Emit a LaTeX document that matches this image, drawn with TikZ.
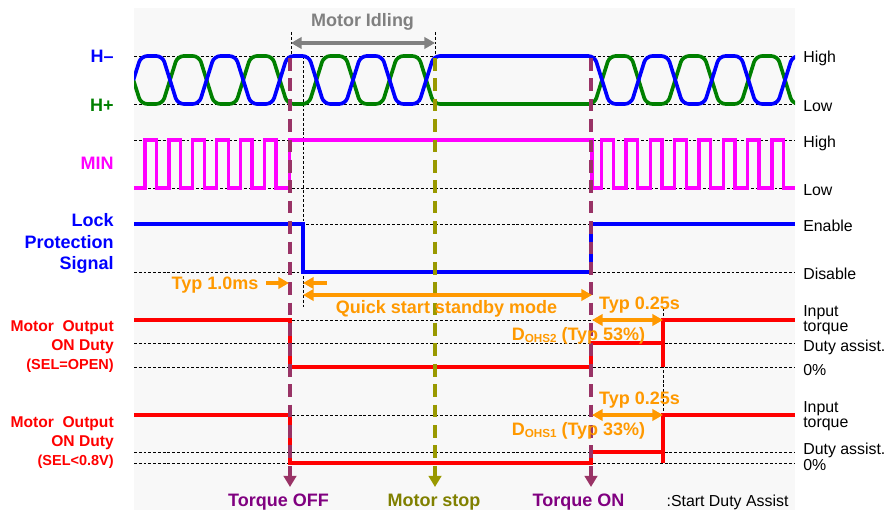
\documentclass[tikz,border=0pt]{standalone}
\usepackage{fontspec}
\setmainfont{Liberation Sans}
\usetikzlibrary{arrows.meta}
\definecolor{tdBlue}{HTML}{0000FF}
\definecolor{tdGreen}{HTML}{008000}
\definecolor{tdMagenta}{HTML}{FF00FF}
\definecolor{tdRed}{HTML}{FF0000}
\definecolor{tdOrange}{HTML}{FF9900}
\definecolor{tdPlum}{HTML}{993366}
\definecolor{tdPurple}{HTML}{800080}
\definecolor{tdOlive}{HTML}{999900}
\definecolor{tdOliveTxt}{HTML}{808000}
\definecolor{tdGray}{HTML}{808080}
\definecolor{tdBg}{HTML}{F8F8F8}
\begin{document}
\begin{tikzpicture}[x=0.025cm,y=-0.025cm,
  >={Triangle[length=7.5pt,width=8pt]},
  every node/.style={inner sep=0pt},
  lvl/.style={line width=0.55pt,dash pattern=on 2pt off 1.4pt},
  sig/.style={line width=2.4pt},
  hwave/.style={sig,line width=2.6pt,rounded corners=4.5pt},
  evt/.style={line width=2.5pt,dash pattern=on 9pt off 5.5pt,-{Triangle[length=8pt,width=9pt]}},
  orarr/.style={line width=2.8pt,tdOrange},
  big/.style={font=\bfseries\fontsize{12.8}{15.1}\selectfont},
  lbl/.style={big,align=right,anchor=north east},
  dutylbl/.style={lbl,tdRed,font=\bfseries\fontsize{11.1}{13.6}\selectfont},
  rlbl/.style={font=\fontsize{11.3}{10.7}\selectfont,anchor=base west},
  olbl/.style={big,tdOrange,anchor=base},
  evlbl/.style={big,anchor=base},
]
\useasboundingbox (0,0) rectangle (885,510);
\fill[white] (0,0) rectangle (885,510);
\fill[tdBg] (134,8) rectangle (795,510);

% level lines
\foreach \y in {56,104,140,188,224,272,320,343,367,415,452,463}
  \draw[lvl] (134,\y) -- (795,\y);
\draw[lvl] (291,32) -- (291,56);
\draw[lvl] (435,32) -- (435,56);
\draw[lvl] (303,56) -- (303,308);
\draw[lvl] (663,308) -- (663,413);

% hall signals
\begin{scope}
\clip (134,0) rectangle (795,510);
\draw[hwave,tdGreen] (133.4,80) -- (141,104)
  \foreach \k [evaluate=\k as \xa using 125.9+36.6*\k,
               evaluate=\k as \ya using 104-48*iseven(\k)] in {1,...,8}
  { -- (\xa,\ya) -- (\xa+15,160-\ya) }
  \foreach \j [evaluate=\j as \xa using 594.5+36.6*\j,
               evaluate=\j as \ya using 104-48*isodd(\j)] in {0,...,5}
  { -- (\xa,\ya) -- (\xa+15,160-\ya) } -- (796,104);
\draw[hwave,tdBlue] (133.4,80) -- (141,56)
  \foreach \k [evaluate=\k as \xa using 125.9+36.6*\k,
               evaluate=\k as \ya using 56+48*iseven(\k)] in {1,...,8}
  { -- (\xa,\ya) -- (\xa+15,160-\ya) }
  \foreach \j [evaluate=\j as \xa using 594.5+36.6*\j,
               evaluate=\j as \ya using 56+48*isodd(\j)] in {0,...,5}
  { -- (\xa,\ya) -- (\xa+15,160-\ya) } -- (796,56);
\end{scope}

% MIN
\draw[sig,tdMagenta] (134,188)
  \foreach \k [evaluate=\k as \xr using 145+23.9*\k] in {0,...,5}
  { -- (\xr,188) -- (\xr,140) -- (\xr+11.5,140) -- (\xr+11.5,188) }
  -- (289.5,188) -- (289.5,140) -- (592,140) -- (592,188)
  \foreach \k [evaluate=\k as \xr using 601.7+24.3*\k] in {0,...,7}
  { -- (\xr,188) -- (\xr,140) -- (\xr+11.6,140) -- (\xr+11.6,188) }
  -- (795,188);

% lock protection
\draw[sig,tdBlue] (134,224) -- (303,224) -- (303,272) -- (591,272) -- (591,224) -- (795,224);

% motor output duty
\draw[sig,line width=2.7pt,tdRed] (134,320) -- (290,320) -- (290,367) -- (591,367) -- (591,343) -- (663,343);
\draw[sig,line width=2.7pt,tdRed] (663,367) -- (663,320) -- (795,320);
\draw[sig,line width=2.7pt,tdRed] (134,415) -- (290,415) -- (290,463) -- (591,463) -- (591,452) -- (663,452);
\draw[sig,line width=2.7pt,tdRed] (663,463) -- (663,415) -- (795,415);

% events
\coordinate (offTop) at (290,58);  \coordinate (offEnd) at (290,487);
\coordinate (stopTop) at (435,58); \coordinate (stopEnd) at (435,487);
\coordinate (onTop) at (591,58);   \coordinate (onEnd) at (591,487);
\draw[evt,tdPlum] (offTop) -- (offEnd);
\draw[evt,tdOlive] (stopTop) -- (stopEnd);
\draw[evt,tdPlum] (onTop) -- (onEnd);

% idling span
\coordinate (idleA) at (291,43); \coordinate (idleB) at (435,43);
\draw[<->,line width=2.3pt,tdGray] (idleA) -- (idleB);

% timing marks
\coordinate (msL) at (266,283);  \coordinate (msLt) at (289,283);
\coordinate (msR) at (327,283);  \coordinate (msRt) at (303,283);
\coordinate (qsA) at (303,295);  \coordinate (qsB) at (592,295);
\coordinate (asA1) at (592,320); \coordinate (asB1) at (663,320);
\coordinate (asA2) at (592,415); \coordinate (asB2) at (663,415);
\draw[orarr,->] (msL) -- (msLt);
\draw[orarr,->] (msR) -- (msRt);
\draw[orarr,<->] (qsA) -- (qsB);
\draw[orarr,<->] (asA1) -- (asB1);
\draw[orarr,<->] (asA2) -- (asB2);

% left labels
\node[lbl,tdBlue,anchor=base east] (hMinus) at (114,63) {H--};
\node[lbl,tdGreen,anchor=base east] (hPlus) at (114,112) {H+};
\node[lbl,tdMagenta,anchor=base east] (minLbl) at (114,170) {MIN};
\node[lbl,tdBlue] (lockLbl) at (114,213.5) {Lock\\Protection\\Signal};
\node[dutylbl] (dutyOpen) at (114,320.5) {Motor~ Output\\ON Duty\\{\fontsize{10.3}{12}\selectfont(SEL=OPEN)}};
\node[dutylbl] (dutyLow) at (114,416.5) {Motor~ Output\\ON Duty\\{\fontsize{10.3}{12}\selectfont(SEL<0.8V)}};

% right labels
\node[rlbl] (hiH) at (803,63) {High};
\node[rlbl] (loH) at (803,111.5) {Low};
\node[rlbl] (hiM) at (803,147.5) {High};
\node[rlbl] (loM) at (803,195.5) {Low};
\node[rlbl] (enLbl) at (803,231.5) {Enable};
\node[rlbl] (disLbl) at (803,279.5) {Disable};
\node[rlbl,anchor=west,align=left] (inA) at (803,320) {Input\\torque};
\node[rlbl] (daA) at (803,351.5) {Duty assist.};
\node[rlbl] (zA) at (803,375) {0\%};
\node[rlbl,anchor=west,align=left] (inB) at (803,416.5) {Input\\torque};
\node[rlbl] (daB) at (803,454) {Duty assist.};
\node[rlbl] (zB) at (803,470) {0\%};

% annotations
\node[big,tdGray,anchor=base] (idle) at (362.5,26.7) {Motor Idling};
\node[olbl] (typ1) at (215,289.3) {Typ 1.0ms};
\node[olbl] (qsb) at (446.5,313) {Quick start standby mode};
\node[olbl] (typ25a) at (639.5,309) {Typ 0.25s};
\node[olbl] (dohs2) at (578.5,340) {D\raisebox{-0.5mm}{\fontsize{8.3}{9}\selectfont OHS2} (Typ 53\%)};
\node[olbl] (typ25b) at (639.5,404) {Typ 0.25s};
\node[olbl] (dohs1) at (578.5,435) {D\raisebox{-0.5mm}{\fontsize{8.3}{9}\selectfont OHS1} (Typ 33\%)};

% bottom
\node[evlbl,tdPurple] (offLbl) at (278.5,506.5) {Torque OFF};
\node[evlbl,tdOliveTxt] (stopLbl) at (434,506.5) {Motor stop};
\node[evlbl,tdPurple] (onLbl) at (578.5,506.5) {Torque ON};
\node[rlbl,anchor=base] (legend) at (727.5,506.5) {:Start Duty Assist};
\end{tikzpicture}
\end{document}
